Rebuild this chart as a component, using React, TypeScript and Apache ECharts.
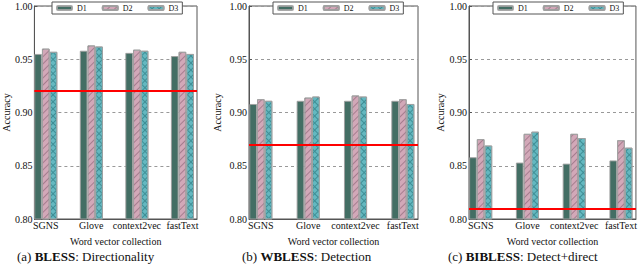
import React, { useEffect, useRef } from "react";
import * as echarts from "echarts";

const categories = ["SGNS", "Glove", "context2vec", "fastText"];
const seriesNames = ["D1", "D2", "D3"];

const blessD1 = [0.955, 0.958, 0.956, 0.953];
const blessD2 = [0.960, 0.963, 0.959, 0.957];
const blessD3 = [0.957, 0.962, 0.958, 0.955];
const blessBaseline = 0.92;

const wblessD1 = [0.908, 0.911, 0.911, 0.911];
const wblessD2 = [0.9125, 0.914, 0.916, 0.9125];
const wblessD3 = [0.911, 0.915, 0.915, 0.908];
const wblessBaseline = 0.87;

const biblessD1 = [0.858, 0.853, 0.852, 0.855];
const biblessD2 = [0.875, 0.880, 0.880, 0.874];
const biblessD3 = [0.869, 0.882, 0.876, 0.867];
const biblessBaseline = 0.81;

const captions = [
  "(a) {b|BLESS}: Directionality",
  "(b) {b|WBLESS}: Detection",
  "(c) {b|BIBLESS}: Detect+direct",
];

const FONT = "Liberation Serif";

export default function App() {
  const ref = useRef<HTMLDivElement>(null);
  useEffect(() => {
    if (!ref.current) return;
    const chart = echarts.init(ref.current, null, { renderer: "svg" });

    const panels = [
      { d: [blessD1, blessD2, blessD3], base: blessBaseline, left: 28, nameGap: 21, capLeft: 17 },
      { d: [wblessD1, wblessD2, wblessD3], base: wblessBaseline, left: 249, nameGap: 27, capLeft: 242 },
      { d: [biblessD1, biblessD2, biblessD3], base: biblessBaseline, left: 469, nameGap: 23, capLeft: 448 },
    ];
    const W = 169;
    const TOP = 6;
    const H = 213;

    const barStyles = [
      { color: "#436e64", decal: undefined },
      {
        color: "#d2a8b8",
        decal: {
          symbol: "rect",
          symbolSize: 1,
          rotation: -Math.PI / 4,
          dashArrayX: [1, 0],
          dashArrayY: [1, 4],
          color: "rgba(110,70,90,0.45)",
        },
      },
      {
        color: "#3f8e95",
        decal: {
          symbol: "rect",
          symbolSize: 1,
          rotation: Math.PI / 4,
          dashArrayX: [4, 1],
          dashArrayY: [4, 1],
          color: "#64b8c0",
        },
      },
    ];

    const txt = (size: number) => ({
      fontFamily: FONT,
      fontSize: size,
      color: "#111",
    });

    const grid: any[] = [];
    const xAxis: any[] = [];
    const yAxis: any[] = [];
    const series: any[] = [];
    const legend: any[] = [];
    const title: any[] = [];

    panels.forEach((p, gi) => {
      grid.push({
        left: p.left,
        top: TOP,
        width: W,
        height: H,
        show: true,
        borderColor: "#555",
        borderWidth: 1,
        backgroundColor: "#fff",
      });
      xAxis.push({
        type: "value",
        gridIndex: gi,
        min: -0.25,
        max: 3.32,
        name: "Word vector collection",
        nameLocation: "middle",
        nameGap: 17,
        nameTextStyle: txt(10),
        axisLine: { show: true, onZero: false, lineStyle: { color: "#555" } },
        axisTick: { show: true, inside: true, length: 3, customValues: [0, 1, 2, 3], lineStyle: { color: "#555" } },
        axisLabel: {
          customValues: [0, 1, 2, 3],
          formatter: (v: number) => categories[Math.round(v)] ?? "",
          ...txt(10),
          margin: 1,
        },
        splitLine: { show: false },
      });
      yAxis.push({
        type: "value",
        gridIndex: gi,
        min: 0.8,
        max: 1.0,
        interval: 0.05,
        name: "Accuracy",
        nameLocation: "middle",
        nameGap: p.nameGap,
        nameTextStyle: txt(10),
        axisLine: { show: true, onZero: false, lineStyle: { color: "#555" } },
        axisTick: { show: true, inside: true, length: 3, lineStyle: { color: "#555" } },
        axisLabel: {
          formatter: (v: number) => v.toFixed(2),
          ...txt(10),
          margin: 2,
        },
        splitLine: { show: true, lineStyle: { color: "#999", type: [3, 3], width: 1 } },
      });
      p.d.forEach((vals, si) => {
        const st = barStyles[si];
        const s: any = {
          type: "bar",
          name: seriesNames[si],
          xAxisIndex: gi,
          yAxisIndex: gi,
          data: vals.map((v, i) => [i, v]),
          barWidth: 7.7,
          barGap: "0%",
          itemStyle: {
            color: st.color,
            borderColor: "rgba(160,160,160,0.9)",
            borderWidth: 1,
            decal: st.decal,
          },
        };
        if (si === 0) {
          s.markLine = {
            silent: true,
            symbol: "none",
            label: { show: false },
            lineStyle: { color: "#ff0000", width: 2, type: "solid" },
            data: [{ yAxis: p.base }],
          };
        }
        series.push(s);
      });
      legend.push({
        data: seriesNames,
        left: p.left + 24,
        top: 2,
        padding: [2, 4, 2, 4],
        itemGap: 15,
        itemWidth: 15,
        itemHeight: 4,
        backgroundColor: "#fff",
        borderColor: "#555",
        borderWidth: 1,
        textStyle: txt(8),
      });
      title.push({
        text: captions[gi],
        left: p.capLeft,
        top: 250,
        padding: 0,
        textStyle: {
          ...txt(13),
          fontWeight: "normal",
          rich: { b: { ...txt(13), fontWeight: "bold" } },
        },
      });
    });

    chart.setOption({
      animation: false,
      backgroundColor: "#fff",
      textStyle: { fontFamily: FONT },
      title,
      legend,
      grid,
      xAxis,
      yAxis,
      series,
    });
    return () => chart.dispose();
  }, []);
  return (
    <div
      ref={ref}
      style={{ position: "fixed", left: 0, top: 0, width: 640, height: 264 }}
    />
  );
}
